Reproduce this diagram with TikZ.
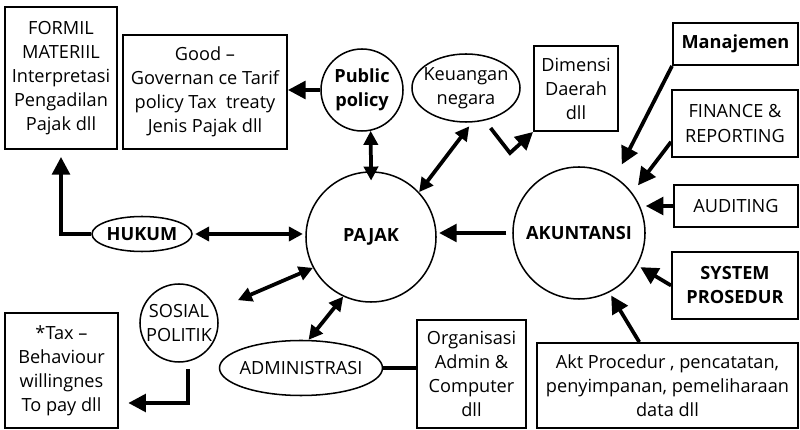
\documentclass[tikz,border=0pt]{standalone}
\usepackage{fontspec}
\setmainfont{Open Sans}
\usetikzlibrary{shapes.geometric,arrows.meta}
\begin{document}
\begin{tikzpicture}[x=0.03cm, y=-0.03cm, font=\fontsize{15.5}{20.5}\selectfont,
        box/.style = {draw, line width=1.6pt, align=center, inner sep=0pt},
        circ/.style = {draw, circle, line width=1.3pt, align=center, inner sep=0pt},
        oval/.style = {draw, ellipse, line width=1.3pt, inner sep=0pt},
        arr/.style = {line width=3.2pt, -{Triangle[length=15pt, width=15pt]}},
        dbl/.style = {line width=3.2pt, {Triangle[length=12pt, width=12pt]}-{Triangle[length=12pt, width=12pt]}}]
        \useasboundingbox (0,0) rectangle (800,430);
        % boxes
        \node[box, minimum width=3.36cm, minimum height=4.26cm] (formil) at (61,78) {FORMIL\\MATERIIL\\Interpretasi\\Pengadilan\\Pajak dll};
        \node[box, minimum width=4.92cm, minimum height=3.42cm] (good) at (205,92) {Good --\\Governan ce Tarif\\policy Tax\ \ treaty\\Jenis Pajak dll};
        \node[box, minimum width=2.52cm, minimum height=2.55cm] (dim) at (576,88.5) {Dimensi\\Daerah\\dll};
        \node[box, minimum width=3.75cm, minimum height=1.26cm] (manaj) at (735.5,44) {\textbf{Manajemen}};
        \node[box, minimum width=3.78cm, minimum height=2.01cm] (fin) at (735,123.5) {FINANCE \&\\REPORTING};
        \node[box, minimum width=3.72cm, minimum height=1.26cm] (audit) at (736,206) {AUDITING};
        \node[box, minimum width=3.78cm, minimum height=2.01cm] (sys) at (735,285.5) {\textbf{SYSTEM}\\\textbf{PROSEDUR}};
        \node[box, minimum width=7.83cm, minimum height=2.55cm] (akt) at (667.5,385.5) {Akt Procedur , pencatatan,\\penyimpanan, pemeliharaan\\data dll};
        \node[box, minimum width=3.27cm, minimum height=3.24cm] (org) at (471.5,374) {Organisasi\\Admin \&\\Computer\\dll};
        \node[box, minimum width=3.39cm, minimum height=3.45cm] (tax) at (61.5,370.5) {*Tax --\\Behaviour\\willingnes\\To pay dll};
        % circles and ovals
        \node[circ, minimum size=2.46cm] (policy) at (362,90) {\textbf{Public}\\\textbf{policy}};
        \node[circ, minimum size=3.9cm] (pajak) at (371,237) {\textbf{PAJAK}};
        \node[circ, minimum size=3.96cm] (akun) at (579,233) {\textbf{AKUNTANSI}};
        \node[circ, minimum size=2.34cm] (sosial) at (179,323) {SOSIAL\\POLITIK};
        \node[oval, minimum width=3.24cm, minimum height=2.04cm, label={[align=center]center:Keuangan\\negara}] (keu) at (466,88) {};
        \node[oval, minimum width=3cm, minimum height=1.05cm, label=center:\textbf{HUKUM}] (hukum) at (142,234) {};
        \node[oval, minimum width=4.89cm, minimum height=1.65cm, label=center:ADMINISTRASI] (admin) at (301,368) {};
        \coordinate (v) at (510,153);

        \draw[arr] (policy.west) -- (policy.west -| good.east);
        \draw[dbl, shorten >=-8pt] (policy.-78) -- (pajak.north);
        \draw[dbl, shorten <=4pt] (keu.-80) -- (pajak.43);
        \draw[arr, shorten <=8pt] (keu.-60) -- (v) -- (dim.south west);
        \draw[dbl, shorten <=2pt, shorten >=2pt] (hukum.east) -- (hukum.east -| pajak.west);
        \draw[arr, shorten >=6pt] (hukum.west) -| (formil.south);
        \draw[dbl, shorten <=20pt] (sosial.20) -- (pajak.208);
        \draw[dbl] (admin.75) -- (pajak.245);
        \draw[arr, shorten <=6pt, shorten >=8pt] (sosial.-77) |- ([yshift=-0.975cm]tax.east);
        \draw[line width=3.2pt] (admin.east) -- (admin.east -| org.west);
        \draw[arr, shorten <=5pt, shorten >=2pt] (akun.west) -- (akun.west -| pajak.east);
        \draw[arr, shorten >=12pt] (manaj.south west) -- (akun.57);
        \draw[arr, shorten >=8pt] (fin.196) -- (akun.37);
        \draw[arr] (audit.west) -- (audit.west -| akun.east);
        \draw[arr, shorten >=3pt] (sys.west) -- (akun.-29);
        \draw[arr, shorten >=3pt] (akt.123) -- (akun.-63);
    \end{tikzpicture}
\end{document}
